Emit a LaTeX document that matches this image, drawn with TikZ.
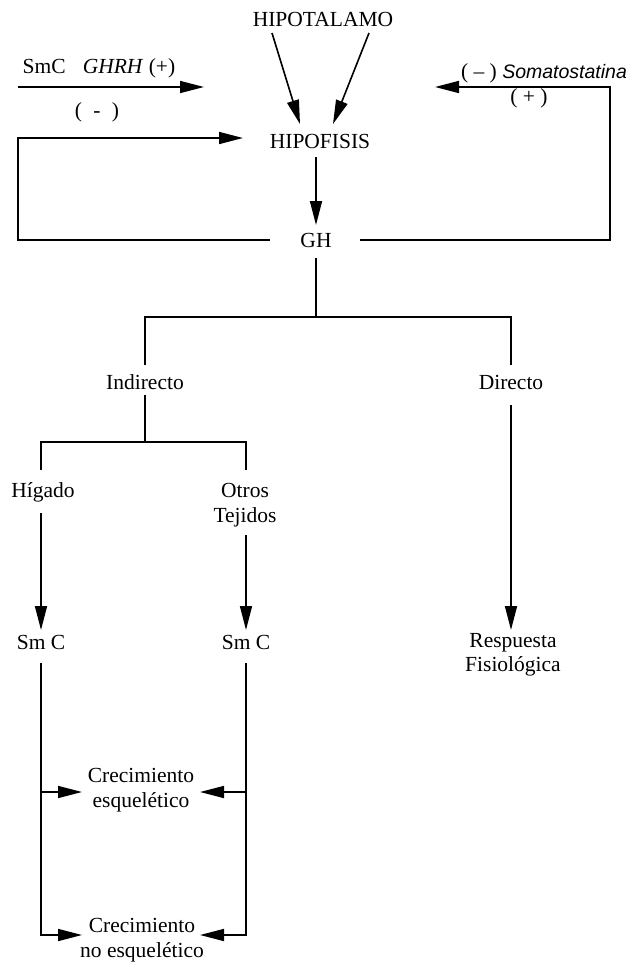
\documentclass[tikz,border=0pt]{standalone}
\usepackage{fontspec}
\setmainfont{Liberation Serif}
\setsansfont{Liberation Sans}
\usetikzlibrary{positioning,arrows.meta,calc}
\tikzset{
  ghtext/.style={
    inner sep=0pt,
    align=center,
    font=\fontsize{21.5}{24.5}\selectfont
  },
  ghline/.style={
    line width=1.6pt,
    draw=black
  },
  gharrow/.style={
    ghline,
    -{Triangle[length=24pt,width=12pt]}
  }
}

\begin{document}
\begin{tikzpicture}[x=1pt,y=-1pt,on grid]
    \useasboundingbox (0,0) rectangle (626,964);
    \node (hipot) [ghtext] at (323,19) {HIPOTALAMO};
    \node (hipof) [ghtext, below=122pt of hipot, xshift=-3pt] {HIPOFISIS};
    \node (gh) [ghtext, below=99pt of hipof, xshift=-4pt] {GH};
    \node (ghrh) [ghtext, below left=49pt and 224pt of hipot] {SmC\hspace{17pt}\textit{GHRH} (+)};
    \node (menos) [ghtext, below=44pt of ghrh, xshift=-2pt] {(\; - \;)};
    \node (somat) [ghtext, below right=54pt and 221pt of hipot] {( -- ) {\sffamily\itshape\fontsize{19.5}{20}\selectfont Somatostatina}};
    \node (mas) [ghtext, below=25pt of somat, xshift=-15pt] {( + )};
    \node (indir) [ghtext, below left=142pt and 171pt of gh] {Indirecto};
    \node (direc) [ghtext, below right=142pt and 195pt of gh] {Directo};
    \node (higado) [ghtext, below left=110pt and 102pt of indir] {Hígado};
    \node (otros) [ghtext, below right=123pt and 100pt of indir] {Otros\\Tejidos};
    \node (smcA) [ghtext, below=150pt of higado, xshift=-2pt] {Sm C};
    \node (smcB) [ghtext, below=137pt of otros, xshift=1pt] {Sm C};
    \node (resp) [ghtext, below=273pt of direc, xshift=2pt] {Respuesta\\Fisiológica};
    \node (crecE) [ghtext, below right=148pt and 100pt of smcA] {Crecimiento\\esquelético};
    \node (crecN) [ghtext, below=150pt of crecE, xshift=1pt] {Crecimiento\\no esquelético};

    \draw[gharrow] ($(hipot)+(-51,14)$) -- ($(hipof)+(-20,-17)$);
    \draw[gharrow] ($(hipot)+(46,14)$) -- ($(hipof)+(13,-17)$);
    \draw[gharrow] ($(hipof)+(-4,16)$) -- ($(gh)+(0,-15)$);
    \draw[gharrow] ($(ghrh)+(-81,19)$) -- ($(ghrh)+(105,19)$);
    \draw[gharrow] ($(gh)+(-46,0)$) -- ++(-252,0) |- ($(hipof)+(-77,-3)$);
    \draw[gharrow] ($(gh)+(44,0)$) -- ++(250,0) |- ($(somat)+(-109,14)$);

    \draw[ghline] ($(gh)+(0,18)$) -- ++(0,59) coordinate (rama1);
    \draw[ghline] ($(indir)+(0,-17)$) |- (rama1) -| ($(direc)+(0,-17)$);
    \draw[ghline] ($(indir)+(0,13)$) -- ++(0,47) coordinate (rama2);
    \draw[ghline] ($(higado)+(-2,-22)$) |- (rama2) -| ($(otros)+(1,-35)$);

    \draw[gharrow] ($(higado)+(-2,21)$) -- ($(smcA)+(0,-12)$);
    \draw[gharrow] ($(otros)+(1,30)$) -- ($(smcB)+(0,-12)$);
    \draw[gharrow] ($(direc)+(0,23)$) -- ($(resp)+(-2,-25)$);

    \draw[gharrow] ($(smcA)+(0,21)$) |- ($(crecN)+(-60,-5)$);
    \draw[gharrow] ($(smcA |- crecE)+(0,2)$) -- ($(crecE)+(-59,2)$);
    \draw[gharrow] ($(smcB)+(0,21)$) |- ($(crecN)+(58,-5)$);
    \draw[gharrow] ($(smcB |- crecE)+(0,2)$) -- ($(crecE)+(59,2)$);
  \end{tikzpicture}
\end{document}
